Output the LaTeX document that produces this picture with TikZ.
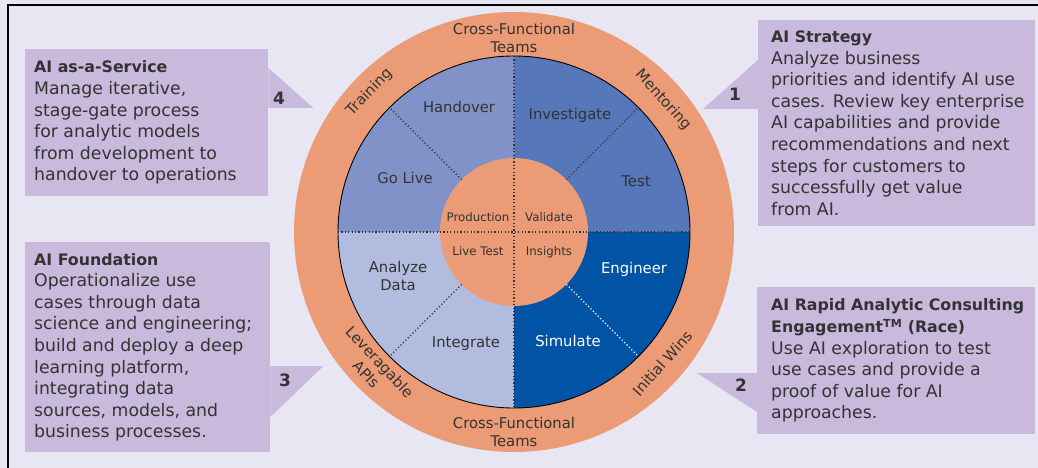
\documentclass[tikz,border=0pt]{standalone}
\usepackage{fontspec}
\setmainfont{DejaVu Sans}
\usepackage{xcolor}
\usetikzlibrary{calc,positioning}
\definecolor{aibg}{HTML}{E8E6F2}
\definecolor{aibox}{HTML}{C9B9DC}
\definecolor{aiorange}{HTML}{EC9B77}
\definecolor{aiblueA}{HTML}{8192C9}
\definecolor{aiblueB}{HTML}{5677BA}
\definecolor{aiblueC}{HTML}{0053A5}
\definecolor{aiblueD}{HTML}{B2BCDE}
\definecolor{aiink}{HTML}{333333}
\newcommand{\hd}[1]{{\fontsize{15.8}{21.6}\selectfont\bfseries #1}}

\begin{document}
\begin{tikzpicture}[
  x=1pt, y=1pt,
  font=\fontsize{17.3}{21.6}\selectfont,
  callout/.style={fill=aibox, inner sep=0pt, anchor=north west},
  blurb/.style={anchor=west, align=left, inner sep=0pt, text=aiink},
  num/.style={font=\fontsize{17}{20}\selectfont\bfseries, text=aiink, inner sep=0pt},
  seglbl/.style={font=\fontsize{14.8}{18}\selectfont, text=aiink, align=center, inner sep=0pt},
  ringlbl/.style={font=\fontsize{14.8}{18.5}\selectfont, text=aiink, align=center, inner sep=0pt},
  hublbl/.style={font=\fontsize{11.8}{13}\selectfont, text=aiink, inner sep=0pt},
  dots/.style={aiink, line width=1.2pt, dash pattern=on 1.2pt off 2.2pt}
]

\useasboundingbox (0,0) rectangle (1038,-468);
\fill[aibg] (0,0) rectangle (1038,-468);
\draw[line width=1.4pt] (8,-468) -- (8,-5) -- (1038,-5);

% wheel
\coordinate (c) at (514,-232);
\fill[aiorange] (c) circle[radius=220];
\fill[aiblueB] (c) -- ++(90:176) arc[start angle=90, end angle=0, radius=176] -- cycle;
\fill[aiblueA] (c) -- ++(180:176) arc[start angle=180, end angle=90, radius=176] -- cycle;
\fill[aiblueD] (c) -- ++(270:176) arc[start angle=270, end angle=180, radius=176] -- cycle;
\fill[aiblueC] (c) -- ++(0:176) arc[start angle=0, end angle=-90, radius=176] -- cycle;
\draw[line width=0.9pt] (c) circle[radius=176];

\node[circle, fill=aiorange, minimum size=148pt, inner sep=0pt] (hub) at (c) {};

\draw[dots] ($(c)+(-176,0)$) -- ($(c)+(176,0)$);
\draw[dots] ($(c)+(0,176)$) -- ($(c)+(0,-176)$);
\foreach \a in {45,135,225}
  \draw[dots] (hub.\a) -- ($(c)+(\a:176)$);
\draw[dots, white] (hub.-45) -- ($(c)+(-45:176)$);

% ring labels
\node[ringlbl] (teamsN) at (514,-38) {Cross-Functional\\Teams};
\node[ringlbl] (teamsS) at (514,-432) {Cross-Functional\\Teams};
\node[ringlbl, rotate=46] (train) at ($(c)+(136:201)$) {Training};
\node[ringlbl, rotate=-48] (mentor) at ($(c)+(41.5:199)$) {Mentoring};
\node[ringlbl, rotate=-47] (apis) at ($(c)+(224:196)$) {Leveragable\\APIs};
\node[ringlbl, rotate=48.5] (wins) at ($(c)+(-41.5:198)$) {Initial Wins};

% segments
\node[seglbl] (handover) at (459,-107) {Handover};
\node[seglbl] (investigate) at (570,-115) {Investigate};
\node[seglbl] (golive) at (405,-178) {Go Live};
\node[seglbl] (test) at (636,-181) {Test};
\node[seglbl] (analyze) at (398,-276) {Analyze\\Data};
\node[seglbl, text=white] (engineer) at (634,-269) {Engineer};
\node[seglbl] (integrate) at (466,-344) {Integrate};
\node[seglbl, text=white] (simulate) at (568,-341) {Simulate};

\node[hublbl] (prod) at (478,-217) {Production};
\node[hublbl] (valid) at (549,-217) {Validate};
\node[hublbl] (livetest) at (478,-251) {Live Test};
\node[hublbl] (insights) at (549,-252) {Insights};

% callouts
\node[callout, minimum width=243pt, minimum height=147pt] (service) at (25,-49) {};
\fill[aibox] ([yshift=-19pt]service.north east) -- ([xshift=45pt,yshift=-59pt]service.north east)
  -- ([yshift=-59pt]service.north east) -- cycle;
\node[blurb] (serviceTxt) at ([xshift=9pt]service.west)
  {\hd{AI as-a-Service}\\Manage iterative,\\stage-gate process\\for analytic models\\
   from development to\\handover to operations};

\node[callout, minimum width=277pt, minimum height=206pt] (strategy) at (758,-20) {};
\fill[aibox] ([yshift=-40pt]strategy.north west) -- ([xshift=-55pt,yshift=-89pt]strategy.north west)
  -- ([yshift=-89pt]strategy.north west) -- cycle;
\node[blurb] (strategyTxt) at ([xshift=13pt]strategy.west)
  {\hd{AI Strategy}\\Analyze business\\priorities and identify AI use\\cases. Review key enterprise\\
   AI capabilities and provide\\recommendations and next\\steps for customers to\\
   successfully get value\\from AI.};

\node[callout, minimum width=278pt, minimum height=147pt] (race) at (757,-287) {};
\fill[aibox] ([yshift=-86pt]race.north west) -- ([xshift=-60pt,yshift=-86pt]race.north west)
  -- ([yshift=-125pt]race.north west) -- cycle;
\node[blurb] (raceTxt) at ([xshift=14pt]race.west)
  {\hd{AI Rapid Analytic Consulting}\\\hd{Engagement\textsuperscript{TM} (Race)}\\
   Use AI exploration to test\\use cases and provide a\\proof of value for AI\\approaches.};

\node[callout, minimum width=245pt, minimum height=210pt] (found) at (25,-242) {};
\fill[aibox] ([yshift=-124pt]found.north east) -- ([xshift=53pt,yshift=-124pt]found.north east)
  -- ([yshift=-175pt]found.north east) -- cycle;
\node[blurb] (foundTxt) at ([xshift=9pt]found.west)
  {\hd{AI Foundation}\\Operationalize use\\cases through data\\science and engineering;\\
   build and deploy a deep\\learning platform,\\integrating data\\sources, models, and\\
   business processes.};

\node[num] (n4) at (279,-98) {4};
\node[num] (n1) at (735,-94) {1};
\node[num] (n2) at (741,-385) {2};
\node[num] (n3) at (285,-380) {3};

\end{tikzpicture}
\end{document}
